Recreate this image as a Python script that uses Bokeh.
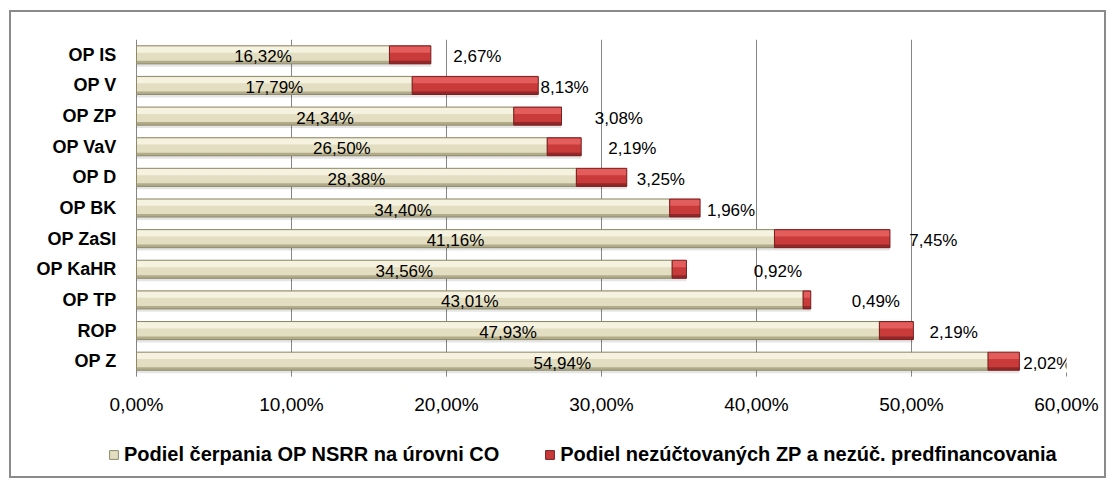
from bokeh.plotting import figure
from bokeh.layouts import column
from bokeh.models import (ColumnDataSource, FactorRange, Range1d, CustomJSTickFormatter,
                          FixedTicker, Legend, LegendItem)
from bokeh.transform import dodge
from bokeh.core.properties import value
from bokeh.embed import file_html
from bokeh.resources import INLINE

# ---- data (top to bottom as shown) ----
programs = ["OP IS", "OP V", "OP ZP", "OP VaV", "OP D", "OP BK",
            "OP ZaSI", "OP KaHR", "OP TP", "ROP", "OP Z"]
cerpanie = [16.32, 17.79, 24.34, 26.50, 28.38, 34.40, 41.16, 34.56, 43.01, 47.93, 54.94]
nezuctovane = [2.67, 8.13, 3.08, 2.19, 3.25, 1.96, 7.45, 0.92, 0.49, 2.19, 2.02]
# label placement of the red-series labels (shift right of stack end, in % units)
red_label_shift = [3.0, 1.7, 3.7, 3.3, 2.2, 2.0, 2.8, 5.9, 4.2, 2.6, 1.8]
x_ticks = [0, 10, 20, 30, 40, 50, 60]
x_max = 60
series_names = ["Podiel čerpania OP NSRR na úrovni CO",
                "Podiel nezúčtovaných ZP a nezúč. predfinancovania"]

FONT = "Liberation Sans"
BEIGE = dict(base="#E3DEC1", hi="#F5F2E0", lo="#B1AB89", edge="#8E896B")
RED = dict(base="#C93A3B", hi="#E35D5D", lo="#902728", edge="#7A1E1F")

# layout (pixels)
LEFT_PAD = 28          # blank strip between frame edge and the 0 % line
AXIS_PX = 930          # width of 0..60 %
FRAME_W = AXIS_PX + LEFT_PAD
BORDER_L = 125 - LEFT_PAD


def fmt(v):
    return f"{v:.2f}".replace(".", ",") + "%"


totals = [a + b for a, b in zip(cerpanie, nezuctovane)]
src = ColumnDataSource(dict(
    cat=programs,
    zero=[0.0] * len(programs),
    beige=cerpanie,
    total=totals,
    beige_mid=[a / 2 for a in cerpanie],
    beige_txt=[fmt(v) for v in cerpanie],
    red_txt=[fmt(v) for v in nezuctovane],
    red_lx=[t + s for t, s in zip(totals, red_label_shift)],
))

order = list(reversed(programs))
x_start = -LEFT_PAD * x_max / AXIS_PX
W = BORDER_L + FRAME_W + 38
p = figure(width=W, height=418,
           y_range=FactorRange(factors=order, range_padding=0),
           x_range=Range1d(x_start, x_max), output_backend="svg", toolbar_location=None,
           min_border_left=BORDER_L, min_border_right=38, min_border_top=27,
           min_border_bottom=54)
p.outline_line_color = None
p.background_fill_color = "white"

H = 0.59
yr = p.y_range

# shadows
p.hbar(y=dodge("cat", -0.34, range=yr), left="zero", right="total", height=0.1,
       source=src, fill_color="#000000", fill_alpha=0.10, line_color=None)


def bar_series(left, right, c):
    p.hbar(y="cat", left=left, right=right, height=H, source=src,
           fill_color=c["base"], line_color=None)
    p.hbar(y=dodge("cat", 0.17, range=yr), left=left, right=right, height=0.2, source=src,
           fill_color=c["hi"], line_color=None)
    p.hbar(y=dodge("cat", -0.245, range=yr), left=left, right=right, height=0.1, source=src,
           fill_color=c["lo"], line_color=None)
    p.hbar(y="cat", left=left, right=right, height=H, source=src,
           fill_color=None, line_color=c["edge"], line_width=1)


bar_series("zero", "beige", BEIGE)
bar_series("beige", "total", RED)

# labels
p.text(x="beige_mid", y="cat", text="beige_txt", source=src, text_align="center",
       text_baseline="middle", text_font=value(FONT), text_font_size="17px",
       text_color="#000000", y_offset=2)
p.text(x="red_lx", y="cat", text="red_txt", source=src, text_align="center",
       text_baseline="middle", text_font=value(FONT), text_font_size="17px",
       text_color="#000000", y_offset=2)

# axes
p.xaxis.ticker = FixedTicker(ticks=x_ticks)
p.xaxis.formatter = CustomJSTickFormatter(code="return tick.toFixed(2).replace('.', ',') + '%';")
p.xaxis.axis_line_color = None
p.xaxis.major_tick_in = 4
p.xaxis.major_tick_out = 0
p.xaxis.major_tick_line_color = "#868686"
p.xaxis.minor_tick_line_color = None
p.xaxis.major_label_standoff = 17
p.xaxis.major_label_text_font = FONT
p.xaxis.major_label_text_font_size = "19px"
p.xaxis.major_label_text_color = "#000000"

p.yaxis.axis_line_color = None
p.yaxis.major_tick_line_color = None
p.yaxis.minor_tick_line_color = None
p.yaxis.major_label_standoff = -14
p.yaxis.major_label_text_font = FONT
p.yaxis.major_label_text_font_style = "bold"
p.yaxis.major_label_text_font_size = "18px"
p.yaxis.major_label_text_color = "#000000"

p.xgrid.grid_line_color = "#868686"
p.xgrid.grid_line_width = 1
p.ygrid.grid_line_color = None

# ---- legend strip ----
lg = figure(width=W, height=46, x_range=Range1d(0, 1), y_range=Range1d(0, 1),
            output_backend="svg", toolbar_location=None,
            x_axis_location=None, y_axis_location=None,
            min_border_left=BORDER_L, min_border_right=38, min_border_top=0,
            min_border_bottom=0)
lg.outline_line_color = None
lg.xgrid.visible = False
lg.ygrid.visible = False


def legend_glyphs(c):
    a = lg.hbar(y=[-5], left=[0], right=[0.1], height=0.1,
                fill_color=c["base"], line_color=c["edge"], line_width=1)
    return [a]


legend = Legend(items=[LegendItem(label=series_names[0], renderers=legend_glyphs(BEIGE)),
                       LegendItem(label=series_names[1], renderers=legend_glyphs(RED))],
                orientation="horizontal", location=(0, 10),
                glyph_width=11, glyph_height=11, label_standoff=5, spacing=45,
                padding=0, margin=0, background_fill_alpha=0, border_line_color=None,
                label_text_font=FONT, label_text_font_style="bold",
                label_text_font_size="20px", label_text_color="#000000")
lg.add_layout(legend, "center")

layout = column(p, lg, spacing=0, margin=(10, 0, 0, 9),
                styles={"border": "2px solid #8a8a8a"})

open("out.html", "w").write(file_html(layout, INLINE))
